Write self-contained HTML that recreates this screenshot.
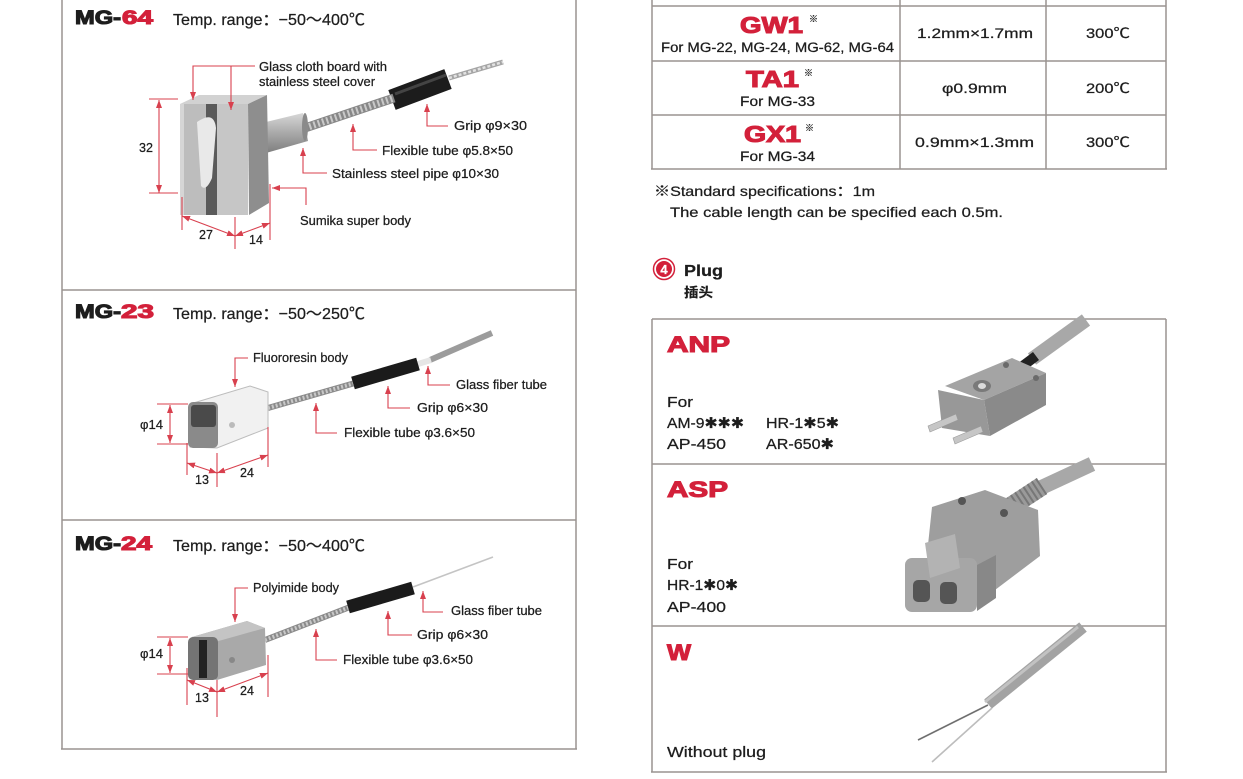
<!DOCTYPE html>
<html><head><meta charset="utf-8">
<style>
html,body{margin:0;padding:0;background:#fff;width:1243px;height:779px;overflow:hidden}
svg{display:block}
text{font-family:"Liberation Sans","Noto Sans CJK SC",sans-serif;fill:#1d1d1d;stroke:#1d1d1d;stroke-width:0.25}
.b{font-weight:bold}
.lb{font-size:12.5px}
.r{fill:#d3203a;stroke:#d3203a}
.ld{fill:none;stroke:#d8404e;stroke-width:1.1}
.bd{stroke:#9a9490;stroke-width:1.5;fill:none}
.h{stroke-width:1.1}
</style></head><body>
<svg width="1243" height="779" viewBox="0 0 1243 779" xmlns="http://www.w3.org/2000/svg">
<defs>
<marker id="a" viewBox="0 0 8 6" refX="8" refY="3" markerWidth="8" markerHeight="6" markerUnits="userSpaceOnUse" orient="auto-start-reverse"><path d="M0,0L8,3L0,6z" fill="#d8404e"/></marker>
<linearGradient id="pipe" x1="0" y1="0" x2="0" y2="1"><stop offset="0" stop-color="#d8d8d8"/><stop offset="0.5" stop-color="#a9a9a9"/><stop offset="1" stop-color="#7e7e7e"/></linearGradient>
</defs>

<!-- ================= LEFT PANEL ================= -->
<line class="bd" x1="62" y1="0" x2="62" y2="749"/>
<line class="bd" x1="576" y1="0" x2="576" y2="749"/>
<line class="bd" x1="62" y1="290" x2="576" y2="290"/>
<line class="bd" x1="62" y1="520" x2="576" y2="520"/>
<line class="bd" x1="61" y1="749" x2="577" y2="749"/>

<!-- MG-64 -->
<text x="75" y="24" font-size="19" class="b h" textLength="46" lengthAdjust="spacingAndGlyphs">MG-</text>
<text x="122" y="24" font-size="19" class="b r h" textLength="31" lengthAdjust="spacingAndGlyphs">64</text>
<text x="173" y="25" font-size="16" textLength="192" lengthAdjust="spacingAndGlyphs">Temp. range：−50～400℃</text>

<!-- MG-64 drawing -->
<line x1="449" y1="78" x2="503" y2="62" stroke="#a5a5a5" stroke-width="5"/>
<line x1="449" y1="78" x2="503" y2="62" stroke="#e2e2e2" stroke-width="2.5" stroke-dasharray="3 2"/>
<line x1="392" y1="100" x2="448" y2="79" stroke="#1c1c1c" stroke-width="21"/>
<line x1="395" y1="94" x2="446" y2="75" stroke="#444" stroke-width="3"/>
<line x1="305" y1="128" x2="394" y2="98" stroke="#878787" stroke-width="9"/>
<line x1="305" y1="128" x2="394" y2="98" stroke="#c9c9c9" stroke-width="7" stroke-dasharray="2 2.5"/>
<polygon points="266,122 303,113 308,141 266,153" fill="url(#pipe)"/>
<ellipse cx="305" cy="127" rx="3" ry="14" fill="#8a8a8a"/>
<polygon points="180,104 199,95 267,95 248,104" fill="#d2d2d2"/>
<polygon points="248,104 267,95 269,203 249,215" fill="#8e8e8e"/>
<rect x="180" y="104" width="68" height="111" fill="#bdbdbd"/>
<rect x="206" y="104" width="11" height="111" fill="#5a5a5a"/>
<path d="M197,122 Q214,110 216,128 L212,178 Q206,192 201,186 Z" fill="#e9e9e9"/>
<rect x="217" y="104" width="31" height="111" fill="#c6c6c6"/>
<rect x="180" y="104" width="4" height="111" fill="#d6d6d6"/>

<!-- MG-64 leaders -->
<polyline class="ld" points="255,66 193,66 193,100" marker-end="url(#a)"/>
<polyline class="ld" points="231,66 231,110" marker-end="url(#a)"/>
<polyline class="ld" points="448,126 427,126 427,104" marker-end="url(#a)"/>
<polyline class="ld" points="377,150 353,150 353,124" marker-end="url(#a)"/>
<polyline class="ld" points="327,173 303,173 303,148" marker-end="url(#a)"/>
<polyline class="ld" points="306,205 306,188 272,188" marker-end="url(#a)"/>
<line class="ld" x1="159" y1="100" x2="159" y2="193" marker-start="url(#a)" marker-end="url(#a)"/>
<line class="ld" x1="149" y1="99" x2="178" y2="99"/>
<line class="ld" x1="149" y1="193" x2="178" y2="193"/>
<line class="ld" x1="182" y1="216" x2="235" y2="236" marker-start="url(#a)" marker-end="url(#a)"/>
<line class="ld" x1="235" y1="236" x2="270" y2="223" marker-start="url(#a)" marker-end="url(#a)"/>
<line class="ld" x1="182" y1="197" x2="182" y2="230"/>
<line class="ld" x1="235" y1="217" x2="235" y2="249"/>
<line class="ld" x1="270" y1="184" x2="270" y2="240"/>

<text class="lb" x="259" y="71" textLength="128" lengthAdjust="spacingAndGlyphs">Glass cloth board with</text>
<text class="lb" x="259" y="86" textLength="116" lengthAdjust="spacingAndGlyphs">stainless steel cover</text>
<text class="lb" x="454" y="130" textLength="73" lengthAdjust="spacingAndGlyphs">Grip φ9×30</text>
<text class="lb" x="382" y="155" textLength="131" lengthAdjust="spacingAndGlyphs">Flexible tube φ5.8×50</text>
<text class="lb" x="332" y="178" textLength="167" lengthAdjust="spacingAndGlyphs">Stainless steel pipe φ10×30</text>
<text class="lb" x="300" y="225" textLength="111" lengthAdjust="spacingAndGlyphs">Sumika super body</text>
<text class="lb" x="139" y="152">32</text>
<text class="lb" x="199" y="239">27</text>
<text class="lb" x="249" y="244">14</text>

<!-- MG-23 -->
<text x="75" y="318" font-size="19" class="b h" textLength="46" lengthAdjust="spacingAndGlyphs">MG-</text>
<text x="121" y="318" font-size="19" class="b r h" textLength="33" lengthAdjust="spacingAndGlyphs">23</text>
<text x="173" y="319" font-size="16" textLength="192" lengthAdjust="spacingAndGlyphs">Temp. range：−50～250℃</text>

<line x1="430" y1="360" x2="492" y2="333" stroke="#9c9c9c" stroke-width="6"/>
<line x1="418" y1="364" x2="431" y2="360" stroke="#e6e6e6" stroke-width="6"/>
<line x1="268" y1="408" x2="355" y2="383" stroke="#8a8a8a" stroke-width="6"/>
<line x1="268" y1="408" x2="355" y2="383" stroke="#c8c8c8" stroke-width="4" stroke-dasharray="2 2"/>
<line x1="353" y1="383" x2="418" y2="364" stroke="#1b1b1b" stroke-width="13"/>
<polygon points="190,404 250,386 268,392 268,428 217,448 190,447" fill="#f1f1f1" stroke="#bdbdbd" stroke-width="1"/>
<rect x="188" y="402" width="30" height="46" rx="5" fill="#8a8a8a"/>
<rect x="191" y="405" width="25" height="22" rx="3" fill="#4a4a4a"/>
<circle cx="232" cy="425" r="3" fill="#bbb"/>

<polyline class="ld" points="248,358 235,358 235,387" marker-end="url(#a)"/>
<polyline class="ld" points="450,385 428,385 428,366" marker-end="url(#a)"/>
<polyline class="ld" points="410,408 388,408 388,386" marker-end="url(#a)"/>
<polyline class="ld" points="337,433 316,433 316,403" marker-end="url(#a)"/>
<line class="ld" x1="170" y1="405" x2="170" y2="443" marker-start="url(#a)" marker-end="url(#a)"/>
<line class="ld" x1="157" y1="404" x2="188" y2="404"/>
<line class="ld" x1="157" y1="444" x2="188" y2="444"/>
<line class="ld" x1="187" y1="463" x2="217" y2="473" marker-start="url(#a)" marker-end="url(#a)"/>
<line class="ld" x1="217" y1="473" x2="268" y2="455" marker-start="url(#a)" marker-end="url(#a)"/>
<line class="ld" x1="187" y1="443" x2="187" y2="475"/>
<line class="ld" x1="217" y1="453" x2="217" y2="487"/>
<line class="ld" x1="268" y1="427" x2="268" y2="467"/>

<text class="lb" x="253" y="362" textLength="95" lengthAdjust="spacingAndGlyphs">Fluororesin body</text>
<text class="lb" x="456" y="389" textLength="91" lengthAdjust="spacingAndGlyphs">Glass fiber tube</text>
<text class="lb" x="417" y="412" textLength="71" lengthAdjust="spacingAndGlyphs">Grip φ6×30</text>
<text class="lb" x="344" y="437" textLength="131" lengthAdjust="spacingAndGlyphs">Flexible tube φ3.6×50</text>
<text class="lb" x="140" y="429" textLength="23" lengthAdjust="spacingAndGlyphs">φ14</text>
<text class="lb" x="195" y="484">13</text>
<text class="lb" x="240" y="477">24</text>

<!-- MG-24 -->
<text x="75" y="550" font-size="19" class="b h" textLength="46" lengthAdjust="spacingAndGlyphs">MG-</text>
<text x="121" y="550" font-size="19" class="b r h" textLength="31" lengthAdjust="spacingAndGlyphs">24</text>
<text x="173" y="551" font-size="16" textLength="192" lengthAdjust="spacingAndGlyphs">Temp. range：−50～400℃</text>

<line x1="413" y1="587" x2="493" y2="557" stroke="#c4c4c4" stroke-width="1.6"/>
<line x1="265" y1="640" x2="350" y2="607" stroke="#8a8a8a" stroke-width="6"/>
<line x1="265" y1="640" x2="350" y2="607" stroke="#c8c8c8" stroke-width="4" stroke-dasharray="2 2"/>
<line x1="348" y1="607" x2="413" y2="588" stroke="#1b1b1b" stroke-width="13"/>
<polygon points="192,637 247,621 265,628 266,665 217,680 189,675" fill="#a9a9a9"/>
<polygon points="192,637 247,621 265,628 215,642" fill="#c4c4c4"/>
<rect x="188" y="637" width="30" height="43" rx="5" fill="#747474"/>
<rect x="199" y="640" width="8" height="38" fill="#222"/>
<circle cx="232" cy="660" r="3" fill="#888"/>

<polyline class="ld" points="248,588 235,588 235,622" marker-end="url(#a)"/>
<polyline class="ld" points="443,612 423,612 423,591" marker-end="url(#a)"/>
<polyline class="ld" points="412,635 388,635 388,611" marker-end="url(#a)"/>
<polyline class="ld" points="337,660 316,660 316,629" marker-end="url(#a)"/>
<line class="ld" x1="170" y1="638" x2="170" y2="673" marker-start="url(#a)" marker-end="url(#a)"/>
<line class="ld" x1="157" y1="637" x2="188" y2="637"/>
<line class="ld" x1="157" y1="674" x2="188" y2="674"/>
<line class="ld" x1="187" y1="680" x2="217" y2="692" marker-start="url(#a)" marker-end="url(#a)"/>
<line class="ld" x1="217" y1="692" x2="268" y2="673" marker-start="url(#a)" marker-end="url(#a)"/>
<line class="ld" x1="187" y1="668" x2="187" y2="705"/>
<line class="ld" x1="217" y1="680" x2="217" y2="717"/>
<line class="ld" x1="268" y1="655" x2="268" y2="697"/>

<text class="lb" x="253" y="592" textLength="86" lengthAdjust="spacingAndGlyphs">Polyimide body</text>
<text class="lb" x="451" y="615" textLength="91" lengthAdjust="spacingAndGlyphs">Glass fiber tube</text>
<text class="lb" x="417" y="639" textLength="71" lengthAdjust="spacingAndGlyphs">Grip φ6×30</text>
<text class="lb" x="343" y="664" textLength="130" lengthAdjust="spacingAndGlyphs">Flexible tube φ3.6×50</text>
<text class="lb" x="140" y="658" textLength="23" lengthAdjust="spacingAndGlyphs">φ14</text>
<text class="lb" x="195" y="702">13</text>
<text class="lb" x="240" y="695">24</text>

<!-- ================= RIGHT TABLE ================= -->
<line class="bd" x1="652" y1="0" x2="652" y2="169"/>
<line class="bd" x1="900" y1="0" x2="900" y2="169"/>
<line class="bd" x1="1046" y1="0" x2="1046" y2="169"/>
<line class="bd" x1="1166" y1="0" x2="1166" y2="169"/>
<line class="bd" x1="652" y1="6" x2="1166" y2="6"/>
<line class="bd" x1="652" y1="61" x2="1166" y2="61"/>
<line class="bd" x1="652" y1="115" x2="1166" y2="115"/>
<line class="bd" x1="651" y1="169" x2="1167" y2="169"/>

<text x="740" y="33" font-size="23" class="b r h" textLength="63" lengthAdjust="spacingAndGlyphs">GW1</text>
<text x="809" y="22" font-size="9">※</text>
<text x="661" y="52" font-size="13.5" textLength="233" lengthAdjust="spacingAndGlyphs">For MG-22, MG-24, MG-62, MG-64</text>
<text x="917" y="38" font-size="14" textLength="116" lengthAdjust="spacingAndGlyphs">1.2mm×1.7mm</text>
<text x="1086" y="38" font-size="14" textLength="44" lengthAdjust="spacingAndGlyphs">300℃</text>

<text x="746" y="87" font-size="23" class="b r h" textLength="53" lengthAdjust="spacingAndGlyphs">TA1</text>
<text x="804" y="76" font-size="9">※</text>
<text x="740" y="106" font-size="14" textLength="75" lengthAdjust="spacingAndGlyphs">For MG-33</text>
<text x="942" y="93" font-size="14" textLength="65" lengthAdjust="spacingAndGlyphs">φ0.9mm</text>
<text x="1086" y="93" font-size="14" textLength="44" lengthAdjust="spacingAndGlyphs">200℃</text>

<text x="744" y="142" font-size="23" class="b r h" textLength="57" lengthAdjust="spacingAndGlyphs">GX1</text>
<text x="805" y="131" font-size="9">※</text>
<text x="740" y="161" font-size="14" textLength="75" lengthAdjust="spacingAndGlyphs">For MG-34</text>
<text x="915" y="147" font-size="14" textLength="119" lengthAdjust="spacingAndGlyphs">0.9mm×1.3mm</text>
<text x="1086" y="147" font-size="14" textLength="44" lengthAdjust="spacingAndGlyphs">300℃</text>

<text x="654" y="196" font-size="14" textLength="221" lengthAdjust="spacingAndGlyphs">※Standard specifications：1m</text>
<text x="670" y="217" font-size="14" textLength="333" lengthAdjust="spacingAndGlyphs">The cable length can be specified each 0.5m.</text>

<!-- Plug heading -->
<circle cx="664" cy="269" r="10.5" fill="none" stroke="#d3203a" stroke-width="1.5"/>
<circle cx="664" cy="269" r="8" fill="#d3203a"/>
<text x="664" y="274" font-size="13" class="b" text-anchor="middle" style="fill:#fff;stroke:#fff;stroke-width:0.3">4</text>
<text x="684" y="276" font-size="16" class="b" textLength="39" lengthAdjust="spacingAndGlyphs">Plug</text>
<text x="684" y="297" font-size="13" class="b" textLength="29" lengthAdjust="spacingAndGlyphs">插头</text>

<!-- Plug boxes -->
<line class="bd" x1="652" y1="319" x2="652" y2="772"/>
<line class="bd" x1="1166" y1="319" x2="1166" y2="772"/>
<line class="bd" x1="652" y1="319" x2="1166" y2="319"/>
<line class="bd" x1="652" y1="464" x2="1166" y2="464"/>
<line class="bd" x1="652" y1="626" x2="1166" y2="626"/>
<line class="bd" x1="651" y1="772" x2="1167" y2="772"/>

<!-- ANP -->
<text x="667" y="352" font-size="22" class="b r h" textLength="63" lengthAdjust="spacingAndGlyphs">ANP</text>
<text x="667" y="407" font-size="15" textLength="26" lengthAdjust="spacingAndGlyphs">For</text>
<text x="667" y="428" font-size="15" textLength="77" lengthAdjust="spacingAndGlyphs">AM-9✱✱✱</text>
<text x="766" y="428" font-size="15" textLength="73" lengthAdjust="spacingAndGlyphs">HR-1✱5✱</text>
<text x="667" y="449" font-size="15" textLength="59" lengthAdjust="spacingAndGlyphs">AP-450</text>
<text x="766" y="449" font-size="15" textLength="68" lengthAdjust="spacingAndGlyphs">AR-650✱</text>

<line x1="1086" y1="320" x2="1032" y2="359" stroke="#a8a8a8" stroke-width="14"/>
<line x1="1036" y1="356" x2="1020" y2="368" stroke="#222" stroke-width="10"/>
<polygon points="945,386 1012,358 1046,373 984,400" fill="#a4a4a4"/>
<polygon points="984,400 1046,373 1046,405 990,436" fill="#8a8a8a"/>
<polygon points="938,390 984,400 990,436 942,428" fill="#989898"/>
<ellipse cx="982" cy="386" rx="9" ry="6" fill="#7a7a7a"/>
<ellipse cx="982" cy="386" rx="4" ry="3" fill="#dcdcdc"/>
<circle cx="1006" cy="365" r="3" fill="#6a6a6a"/>
<circle cx="1036" cy="378" r="3" fill="#6a6a6a"/>
<polygon points="928,426 956,414 958,420 930,432" fill="#c6c6c6" stroke="#999" stroke-width="0.6"/>
<polygon points="953,438 981,426 983,432 955,444" fill="#c6c6c6" stroke="#999" stroke-width="0.6"/>

<!-- ASP -->
<text x="667" y="497" font-size="22" class="b r h" textLength="61" lengthAdjust="spacingAndGlyphs">ASP</text>
<text x="667" y="569" font-size="15" textLength="26" lengthAdjust="spacingAndGlyphs">For</text>
<text x="667" y="590" font-size="15" textLength="71" lengthAdjust="spacingAndGlyphs">HR-1✱0✱</text>
<text x="667" y="612" font-size="15" textLength="59" lengthAdjust="spacingAndGlyphs">AP-400</text>

<line x1="1092" y1="464" x2="1036" y2="490" stroke="#a8a8a8" stroke-width="15"/>
<line x1="1042" y1="486" x2="1010" y2="507" stroke="#9a9a9a" stroke-width="19"/>
<line x1="1042" y1="486" x2="1010" y2="507" stroke="#777" stroke-width="19" stroke-dasharray="2 3"/>
<polygon points="932,507 985,490 1038,510 1040,556 995,590 945,578 928,545" fill="#9e9e9e"/>
<circle cx="962" cy="501" r="4" fill="#555"/>
<circle cx="1004" cy="513" r="4" fill="#555"/>
<polygon points="977,565 996,555 996,598 977,611" fill="#888"/>
<rect x="905" y="558" width="72" height="54" rx="7" fill="#a6a6a6"/>
<polygon points="925,543 955,534 960,568 930,578" fill="#b3b3b3"/>
<rect x="913" y="580" width="17" height="22" rx="5" fill="#555"/>
<rect x="940" y="582" width="17" height="22" rx="5" fill="#555"/>

<!-- W -->
<text x="667" y="660" font-size="22" class="b r h" textLength="24" lengthAdjust="spacingAndGlyphs">W</text>
<text x="667" y="757" font-size="15" textLength="99" lengthAdjust="spacingAndGlyphs">Without plug</text>
<line x1="1083" y1="627" x2="988" y2="704" stroke="#a3a3a3" stroke-width="12"/>
<line x1="1078" y1="627" x2="985" y2="702" stroke="#c2c2c2" stroke-width="3"/>
<line x1="988" y1="705" x2="918" y2="740" stroke="#6f6f6f" stroke-width="1.6"/>
<line x1="992" y1="708" x2="932" y2="762" stroke="#bdbdbd" stroke-width="1.6"/>
</svg>
</body></html>
